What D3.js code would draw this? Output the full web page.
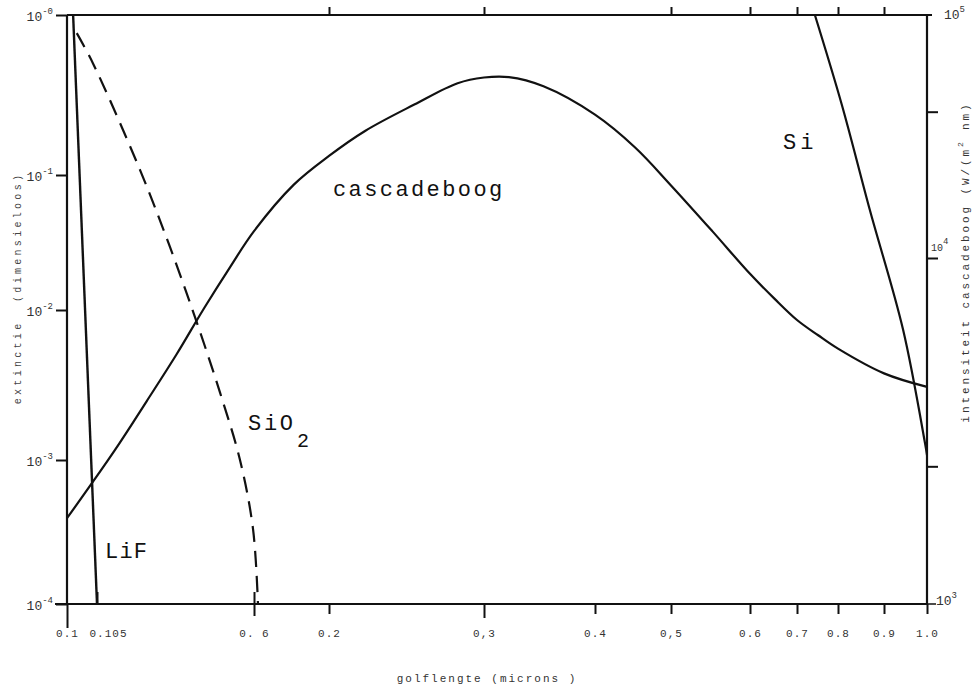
<!DOCTYPE html>
<html>
<head>
<meta charset="utf-8">
<script src="https://cdn.jsdelivr.net/npm/d3@7"></script>
<style>
  body { margin: 0; background: #fff; }
  svg { display: block; font-family: "Liberation Mono", "DejaVu Sans Mono", monospace; }
</style>
</head>
<body>
<svg id="chart" width="975" height="688"></svg>
<script>
// golflengte ticks (microns), as typed on the bottom axis
const xTicks = [0.1, 0.105, 0.16, 0.2, 0.3, 0.4, 0.5, 0.6, 0.7, 0.8, 0.9, 1.0];
const xTickLabels = ['0.1', '0.105', '0. 6', '0.2', '0,3', '0.4', '0,5', '0.6', '0.7', '0.8', '0.9', '1.0'];
const topTicks = [0.2, 0.3, 0.5, 0.6, 0.7, 0.8, 0.9];

// extinctie decades (left) and intensiteit decades (right)
const leftTicks = [1e-4, 1e-3, 1e-2, 1e-1, 1];
const leftTickExp = ['-4', '-3', '-2', '-1', '-0'];
const rightTicks = [1e3, 1e4, 1e5];
const rightTickExp = ['3', '4', '5'];
const rightMinorTicks = [2.5e3, 1e4, 4e4];

// cascadeboog intensity, W/(m2 nm), read against the right axis
const cascadeWl = [0.1, 0.11, 0.12, 0.13, 0.14, 0.15, 0.16, 0.18, 0.2, 0.22, 0.25, 0.28, 0.3,
                   0.32, 0.35, 0.4, 0.45, 0.5, 0.55, 0.6, 0.65, 0.7, 0.75, 0.8, 0.9, 1.0];
const cascadeI  = [1770, 2770, 3860, 5270, 7170, 9400, 12900, 20000, 26300, 33400, 42800, 52400, 55300,
                   55500, 50900, 38900, 28500, 19900, 12900, 9000, 7630, 6620, 5980, 5470, 4640, 4240];

// extinction curves (left axis)
const sio2Wl  = [0.1016, 0.1043, 0.1178, 0.1277, 0.1373, 0.1461, 0.1541, 0.1596, 0.1619];
const sio2Ext = [0.77, 0.50, 0.108, 0.0293, 0.0082, 0.0028, 0.001, 0.00033, 0.0001];
const lifWl   = [0.101, 0.105];
const lifExt  = [1, 0.0001];
const siWl    = [0.742, 0.808, 0.868, 0.943, 0.995, 1.0];
const siExt   = [1, 0.274, 0.055, 0.0074, 0.0013, 0.00108];

// ---- layout: the hand-drawn axes are not evenly spaced, so the log scales are piecewise
const xPix  = [67, 97, 254, 329, 484, 595, 671, 750, 797, 838, 884, 927];
const yLPix = [604, 460, 310, 175, 15];
const yRPix = [604, 258, 15];

const svg = d3.select('#chart');
const ink = '#111';

const x  = d3.scaleLog().domain(xTicks).range(xPix);
const yL = d3.scaleLog().domain(leftTicks).range(yLPix);
const yR = d3.scaleLog().domain(rightTicks).range(yRPix);

const x0 = x(0.1), x1 = x(1.0), yTop = yL(1), yBot = yL(1e-4);

// frame
const frame = svg.append('g').attr('stroke', ink).attr('stroke-width', 2.2).attr('fill', 'none');
frame.append('line').attr('x1', x0).attr('x2', x1 + 5).attr('y1', yTop).attr('y2', yTop);
frame.append('line').attr('x1', x0 - 12).attr('x2', x1).attr('y1', yBot).attr('y2', yBot);
frame.append('line').attr('x1', x0).attr('x2', x0).attr('y1', yTop).attr('y2', yBot);
frame.append('line').attr('x1', x1).attr('x2', x1).attr('y1', yTop).attr('y2', yBot);

// bottom axis
const bottomAxis = svg.append('g')
  .attr('transform', `translate(0,${yBot})`)
  .call(d3.axisBottom(x).tickValues(xTicks).tickSize(10).tickSizeOuter(0).tickPadding(15)
    .tickFormat((d, i) => xTickLabels[i]));
bottomAxis.select('.domain').remove();
bottomAxis.selectAll('line').attr('stroke', ink).attr('stroke-width', 2);
bottomAxis.selectAll('text')
  .attr('fill', '#333').attr('font-size', 11).attr('letter-spacing', 1)
  .attr('font-family', '"Liberation Mono", monospace');
bottomAxis.selectAll('.tick').each(function (d) {
  const t = d3.select(this);
  if (d === 0.1) t.select('line').attr('y2', 24);
  if (d === 0.105) {
    t.select('line').attr('y2', -12);
    t.select('text').attr('x', 11);
  }
  if (d === 0.16) t.select('line').attr('y1', -12).attr('y2', 12);
  if (d === 0.3) t.select('line').attr('y2', 14);
});

// top axis (ticks only)
const topAxis = svg.append('g')
  .attr('transform', `translate(0,${yTop})`)
  .call(d3.axisTop(x).tickValues(topTicks).tickSize(8).tickSizeOuter(0).tickFormat(''));
topAxis.select('.domain').remove();
topAxis.selectAll('line').attr('stroke', ink).attr('stroke-width', 2);

// left axis
const leftAxis = svg.append('g')
  .attr('transform', `translate(${x0},0)`)
  .call(d3.axisLeft(yL).tickValues(leftTicks).tickSize(11).tickSizeOuter(0).tickFormat(''));
leftAxis.select('.domain').remove();
leftAxis.selectAll('line').attr('stroke', ink).attr('stroke-width', 2);
leftTicks.forEach((v, i) => {
  const t = svg.append('text')
    .attr('x', x0 - 14).attr('y', yL(v) + 6)
    .attr('text-anchor', 'end').attr('fill', '#333').attr('font-size', 13);
  t.append('tspan').text('10');
  t.append('tspan').attr('dy', -7).attr('font-size', 9).text(leftTickExp[i]);
});

// right axis
const rightAxis = svg.append('g')
  .attr('transform', `translate(${x1},0)`)
  .call(d3.axisRight(yR).tickValues(rightMinorTicks).tickSize(11).tickSizeOuter(0).tickFormat(''));
rightAxis.select('.domain').remove();
rightAxis.selectAll('line').attr('stroke', ink).attr('stroke-width', 2);
const rightLabelPos = [[x1 + 9, 1], [x1 + 4, -7], [x1 + 17, 4]];
rightTicks.forEach((v, i) => {
  const t = svg.append('text')
    .attr('x', rightLabelPos[i][0]).attr('y', yR(v) + rightLabelPos[i][1])
    .attr('fill', '#333').attr('font-size', i === 1 ? 10 : 13);
  t.append('tspan').text('10');
  t.append('tspan').attr('dy', -7).attr('font-size', 9).text(rightTickExp[i]);
});
svg.append('line').attr('x1', x1).attr('x2', x1 + 9).attr('y1', yBot).attr('y2', yBot)
  .attr('stroke', ink).attr('stroke-width', 1.5);

// axis titles
svg.append('text')
  .attr('x', 487).attr('y', 682).attr('text-anchor', 'middle')
  .attr('fill', '#333').attr('font-size', 11).attr('letter-spacing', 2)
  .text('golflengte (microns )');

svg.append('text')
  .attr('transform', 'translate(21,288) rotate(-90)').attr('text-anchor', 'middle')
  .attr('fill', '#444').attr('font-size', 10).attr('letter-spacing', 3.3)
  .attr('xml:space', 'preserve')
  .text('extinctie  (dimensieloos)');

const rt = svg.append('text')
  .attr('transform', 'translate(969,262) rotate(-90)').attr('text-anchor', 'middle')
  .attr('fill', '#333').attr('font-size', 11).attr('letter-spacing', 2.9);
rt.append('tspan').text('intensiteit cascadeboog (W/(m');
rt.append('tspan').attr('dy', -6).attr('font-size', 8).text('2');
rt.append('tspan').attr('dy', 6).text(' nm)');

// curves
const lineL = d3.line().x(d => x(d[0])).y(d => yL(d[1]));
const lineR = d3.line().x(d => x(d[0])).y(d => yR(d[1]));

svg.append('path')
  .datum(d3.zip(cascadeWl, cascadeI))
  .attr('d', lineR.curve(d3.curveCatmullRom.alpha(0.5)))
  .attr('fill', 'none').attr('stroke', ink).attr('stroke-width', 2.2);

svg.append('path')
  .datum(d3.zip(sio2Wl, sio2Ext))
  .attr('d', lineL.curve(d3.curveCatmullRom.alpha(0.5)))
  .attr('fill', 'none').attr('stroke', ink).attr('stroke-width', 2.2)
  .attr('stroke-dasharray', '16,9');

svg.append('path')
  .datum(d3.zip(lifWl, lifExt))
  .attr('d', lineL.curve(d3.curveLinear))
  .attr('fill', 'none').attr('stroke', ink).attr('stroke-width', 2.4);

svg.append('path')
  .datum(d3.zip(siWl, siExt))
  .attr('d', lineL.curve(d3.curveCatmullRom.alpha(0.5)))
  .attr('fill', 'none').attr('stroke', ink).attr('stroke-width', 2.2);

// curve labels
const lbl = (tx, ty, s, ls) => svg.append('text')
  .attr('x', tx).attr('y', ty).attr('fill', '#111')
  .attr('font-size', 22).attr('letter-spacing', ls).text(s);
lbl(333, 196, 'cascadeboog', 2.4);
lbl(783, 149, 'Si', 4);
lbl(105, 558, 'LiF', 1.2);
lbl(248, 430, 'SiO', 2.7);
svg.append('text').attr('x', 297).attr('y', 447).attr('fill', '#111')
  .attr('font-size', 20).text('2');
</script>
</body>
</html>
